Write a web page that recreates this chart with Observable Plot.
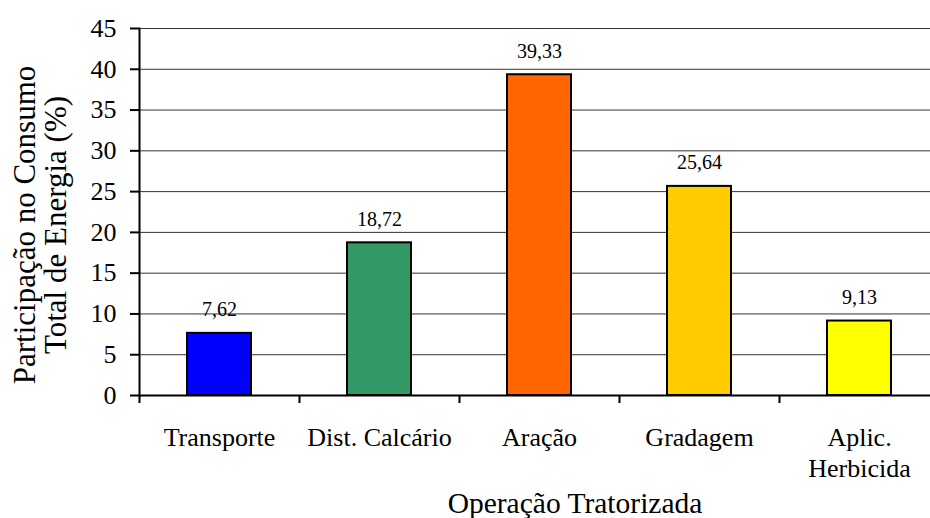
<!DOCTYPE html>
<html><head><meta charset="utf-8">
<script src="https://cdn.jsdelivr.net/npm/d3@7"></script>
<script src="https://cdn.jsdelivr.net/npm/@observablehq/plot@0.6"></script>
<style>html,body{margin:0;padding:0;background:#fff}</style>
</head><body><div id="chart"></div>
<script>
const categories = ["Transporte", "Dist. Calcário", "Aração", "Gradagem", "Aplic.\nHerbicida"];
const values = [7.62, 18.72, 39.33, 25.64, 9.13];
const colors = ["#0000FF", "#339966", "#FF6600", "#FFCC00", "#FFFF00"];
const yTicks = [0, 5, 10, 15, 20, 25, 30, 35, 40, 45];
const xTitle = "Operação Tratorizada";
const yTitle = "Participação no Consumo\nTotal de Energia (%)";

const data = categories.map((c, i) => ({i, c, v: values[i], color: colors[i]}));
const fmt = v => d3.format(".2f")(v).replace(".", ",");
const pad = 0.3;
const serif = "Liberation Serif, Times New Roman, serif";

const chart = Plot.plot({
  width: 930, height: 518,
  marginLeft: 139, marginRight: 0, marginTop: 28, marginBottom: 123,
  style: {fontFamily: serif, background: "#fff", color: "#000", overflow: "hidden"},
  x: {type: "linear", domain: [0, categories.length], range: [139, 939]},
  y: {domain: [0, 45]},
  color: {type: "identity"},
  marks: [
    Plot.ruleY(yTicks, {stroke: "#333", strokeWidth: 1}),
    Plot.rectY(data, {x1: d => d.i + pad, x2: d => d.i + 1 - pad, y1: 0, y2: "v", fill: "color", stroke: "#000", strokeWidth: 2}),
    Plot.ruleY([0], {stroke: "#000", strokeWidth: 2}),
    Plot.axisY({ticks: yTicks, tickSize: 9, tickPadding: 14, fontSize: 26, fontFamily: serif, strokeWidth: 2, label: null, tickFormat: d => String(d)}),
    Plot.axisX({ticks: d3.range(categories.length + 1), tickSize: 8, strokeWidth: 2, tickFormat: () => "", label: null}),
    Plot.frame({anchor: "left", stroke: "#000", strokeWidth: 2}),
    Plot.text(data, {x: d => d.i + 0.5, y: "v", text: d => fmt(d.v), dy: -17, lineAnchor: "bottom", fontSize: 20, fontFamily: serif}),
    Plot.text(data, {x: d => d.i + 0.5, text: "c", frameAnchor: "bottom", lineAnchor: "top", dy: 28, fontSize: 26, lineHeight: 1.2, fontFamily: serif}),
    Plot.text([xTitle], {text: d => d, frameAnchor: "bottom", lineAnchor: "bottom", dx: 40, dy: 117, fontSize: 29.5, fontFamily: serif}),
    Plot.text([yTitle], {text: d => d, frameAnchor: "left", textAnchor: "middle", rotate: -90, dx: -99, dy: 13, fontSize: 31, lineHeight: 1.0, fontFamily: serif})
  ]
});
document.getElementById("chart").appendChild(chart);
</script>
</body></html>
